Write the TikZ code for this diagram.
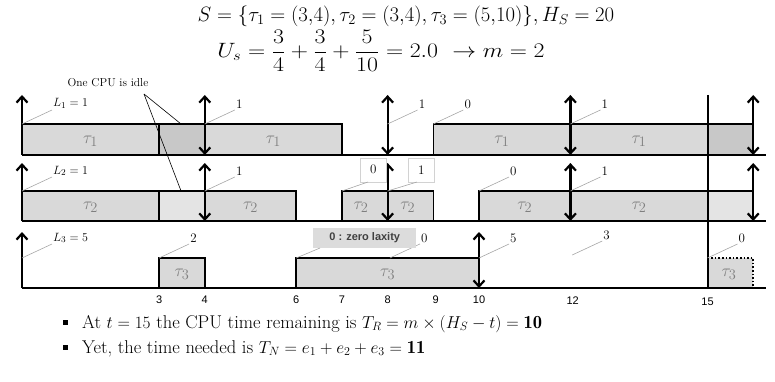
\documentclass[tikz,border=0pt]{standalone}
\usepackage{fontspec}
\usepackage{amsmath}
\usepackage{graphicx}
\newfontfamily\arialf{Liberation Sans}
\usetikzlibrary{arrows.meta}

\definecolor{boxgray}{HTML}{D9D9D9}
\definecolor{idlegray}{HTML}{C8C8C8}
\definecolor{texgray}{HTML}{E4E4E4}
\definecolor{taugray}{HTML}{7F7F7F}
\definecolor{leadgray}{HTML}{A6A6A6}
\definecolor{zgray}{HTML}{DCDCDC}
\definecolor{ztext}{HTML}{404040}

\tikzset{
  axisline/.style={line width=2.6pt},
  boxline/.style={line width=1.5pt},
  splitline/.style={line width=2.2pt},
  relarrow/.style={line width=2.2pt,-{Straight Barb[length=6pt,width=11pt]}},
  dblarrow/.style={line width=2.2pt,{Straight Barb[length=6pt,width=11pt]}-{Straight Barb[length=6pt,width=11pt]}},
  lead/.style={leadgray,line width=0.6pt},
  numlab/.style={font=\fontsize{13}{14}\selectfont,inner sep=1pt,anchor=south west},
  taulab/.style={taugray,font=\fontsize{19}{20}\selectfont},
  ticklab/.style={font=\arialf\fontsize{11}{12}\selectfont},
  smallbox/.style={draw=gray!35,fill=white,minimum width=26pt,minimum height=24pt,inner sep=0pt,anchor=south west,font=\fontsize{13}{14}\selectfont},
  bullettext/.style={anchor=base west,font=\fontsize{18.5}{20}\selectfont,inner sep=0pt},
}

\newcommand\leadlab[4]{%
  \coordinate (#1c) at (#2,#3);
  \node[numlab] (#1) at ([xshift=30pt,yshift=14pt]#1c) {#4};
  \draw[lead] (#1c) -- (#1.south west);
}

\begin{document}
\begin{tikzpicture}[x=1pt,y=-1pt]
\useasboundingbox (0,0) rectangle (775,382);

% title
\node[font=\fontsize{22}{24}\selectfont,inner sep=0pt] (title1) at (406,16)
  {$S=\{\tau_1=(3{,}4),\tau_2=(3{,}4),\tau_3=(5{,}10)\},H_S=20$};
\node[font=\fontsize{22}{24}\selectfont,inner sep=0pt] (title2) at (381,51)
  {\scalebox{1.15}[1]{$U_s=\dfrac{3}{4}+\dfrac{3}{4}+\dfrac{5}{10}=2.0\ \rightarrow m=2$}};

\begin{scope}[xshift=22pt,x=45.7pt]
% ---------- row 1 ----------
\fill[boxgray] (0,124) rectangle (3,155);
\fill[idlegray] (3,124) rectangle (4,155);
\fill[boxgray] (4,124) rectangle (7,155);
\fill[boxgray] (9,124) rectangle (15,155);
\fill[idlegray] (15,124) rectangle (16,155);
\draw[boxline] (0,155) -- (0,124) -- (7,124) -- (7,155);
\draw[splitline] (3,124) -- (3,155);
\draw[boxline] (9,155) -- (9,124) -- (16,124) -- (16,155);
% ---------- row 2 ----------
\fill[boxgray] (0,191) rectangle (3,221);
\fill[texgray] (3,191) rectangle (4,221);
\fill[boxgray] (4,191) rectangle (6,221);
\fill[boxgray] (7,191) rectangle (9,221);
\fill[boxgray] (10,191) rectangle (15,221);
\fill[texgray] (15,191) rectangle (16,221);
\draw[boxline] (0,221) -- (0,191) -- (6,191) -- (6,221);
\draw[splitline] (3,191) -- (3,221);
\draw[boxline] (7,221) -- (7,191) -- (9,191) -- (9,221);
\draw[boxline] (10,221) -- (10,191) -- (16,191) -- (16,221);
% ---------- row 3 ----------
\fill[boxgray] (3,258) rectangle (4,288);
\fill[boxgray] (6,258) rectangle (10,288);
\fill[boxgray] (15,258) rectangle (16,288);
\draw[boxline] (3,288) -- (3,258) -- (4,258) -- (4,288);
\draw[boxline] (6,288) -- (6,258) -- (10,258) -- (10,288);
\draw[line width=1.6pt,dotted] (15,258) -- (16,258) -- (16,288);

% axes
\coordinate (ax1a) at (0,155); \coordinate (ax1b) at (16.28,155);
\coordinate (ax2a) at (0,221); \coordinate (ax2b) at (16.28,221);
\coordinate (ax3a) at (0,288); \coordinate (ax3b) at (16.28,288);
\draw[axisline] (ax1a) -- (ax1b);
\draw[axisline] (ax2a) -- (ax2b);
\draw[axisline] (ax3a) -- (ax3b);

% vertical line at t = 15
\coordinate (v15a) at (15,95); \coordinate (v15b) at (15,288);
\draw[line width=2pt] (v15a) -- (v15b);

% release-only arrows at t = 0
\coordinate (r1b) at (0,155); \coordinate (r1t) at (0,95);
\coordinate (r2b) at (0,221); \coordinate (r2t) at (0,163);
\coordinate (r3b) at (0,288); \coordinate (r3t) at (0,232);
\draw[relarrow] (r1b) -- (r1t);
\draw[relarrow] (r2b) -- (r2t);
\draw[relarrow] (r3b) -- (r3t);

% release + deadline arrows
\foreach \t in {4,8,12,16}{
  \coordinate (d1b\t) at (\t,155); \coordinate (d1t\t) at (\t,95);
  \draw[dblarrow] (d1b\t) -- (d1t\t);
  \coordinate (d2b\t) at (\t,221); \coordinate (d2t\t) at (\t,163);
  \draw[dblarrow] (d2b\t) -- (d2t\t);
}
\coordinate (d3b10) at (10,288); \coordinate (d3t10) at (10,232);
\draw[dblarrow] (d3b10) -- (d3t10);

% task labels
\node[taulab] (ta1) at (1.5,141) {$\tau_1$};
\node[taulab] (ta2) at (5.5,141) {$\tau_1$};
\node[taulab] (ta3) at (10.5,141) {$\tau_1$};
\node[taulab] (ta4) at (13.5,141) {$\tau_1$};
\node[taulab] (tb1) at (1.5,207) {$\tau_2$};
\node[taulab] (tb2) at (5,207) {$\tau_2$};
\node[taulab] (tb3) at (7.42,207) {$\tau_2$};
\node[taulab] (tb4) at (8.44,207) {$\tau_2$};
\node[taulab] (tb5) at (11,207) {$\tau_2$};
\node[taulab] (tb6) at (13.5,207) {$\tau_2$};
\node[taulab] (tc1) at (3.5,274) {$\tau_3$};
\node[taulab] (tc2) at (8,274) {$\tau_3$};
\node[taulab] (tc3) at (15.47,274) {$\tau_3$};

% laxity labels
\leadlab{la}{0}{124}{$L_1=1$}
\leadlab{lb}{4}{124}{1}
\leadlab{lc}{8}{124}{1}
\leadlab{ld}{9}{124}{0}
\leadlab{le}{12}{124}{1}

\leadlab{ma}{0}{191}{$L_2=1$}
\leadlab{mb}{4}{191}{1}
\leadlab{mc}{10}{191}{0}
\leadlab{md}{12}{191}{1}

\node[smallbox] (bx0) at (7.396,182) {0};
\node[smallbox] (bx1) at (8.446,182) {1};
\coordinate (bx0c) at (7,191); \coordinate (bx1c) at (8,191);
\draw[lead] (bx0c) -- ([xshift=8pt]bx0.south west);
\draw[lead] (bx1c) -- ([xshift=9pt]bx1.south west);

\leadlab{na}{0}{258}{$L_3=5$}
\leadlab{nb}{3}{258}{2}
\leadlab{nc}{8.05}{258}{0}
\leadlab{nd}{10}{258}{5}
\leadlab{ne}{12.04}{255}{3}
\leadlab{nf}{15}{258}{0}

\node[fill=zgray,text=ztext,font=\arialf\bfseries\fontsize{11}{12}\selectfont,
      minimum width=103pt,minimum height=20pt,inner sep=0pt,anchor=south west]
      (zl) at (6.368,248) {0 : zero laxity};
\coordinate (zlc) at (6,258);
\draw[lead] (zlc) -- ([xshift=7pt]zl.south west);

% tick labels
\node[ticklab] (k3) at (3,300) {3};
\node[ticklab] (k4) at (4,300) {4};
\node[ticklab] (k6) at (6,300) {6};
\node[ticklab] (k7) at (7,300) {7};
\node[ticklab] (k8) at (8,300) {8};
\node[ticklab] (k9) at (9.05,300) {9};
\node[ticklab] (k10) at (10,300) {10};
\node[ticklab] (k12) at (12.05,301) {12};
\node[ticklab] (k15) at (15,302) {15};

\coordinate (idleA) at (3.48,124);
\coordinate (idleB) at (3.48,191);
\end{scope}

% idle annotation
\node[font=\fontsize{11.5}{12}\selectfont] (idle) at (108,83) {One CPU is idle};
\coordinate (idleO) at (144,94);
\draw[line width=0.6pt] (idleO) -- (idleA);
\draw[line width=0.6pt] (idleO) -- (idleB);

% bullets
\node[fill=black,minimum size=5pt,inner sep=0pt] (sq1) at (65,322) {};
\node[fill=black,minimum size=5pt,inner sep=0pt] (sq2) at (65,347) {};
\node[bullettext] (bl1) at (82,328)
  {At $t=15$ the CPU time remaining is $T_R=m\times(H_S-t)=\mathbf{10}$};
\node[bullettext] (bl2) at (82,353)
  {Yet, the time needed is $T_N=e_1+e_2+e_3=\mathbf{11}$};
\end{tikzpicture}
\end{document}
